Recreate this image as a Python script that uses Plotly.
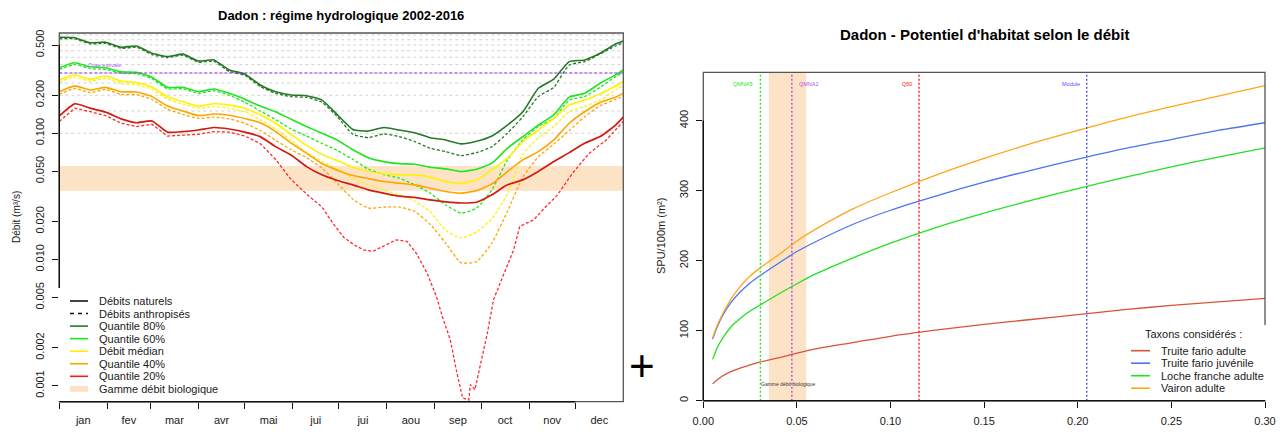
import plotly.graph_objects as go

W, H = 1282, 432
FONT = "Liberation Sans, Arial, sans-serif"

# ---------- données : régime hydrologique (gauche) ----------
jours = [0, 10, 20, 30, 40, 50, 60, 70, 80, 90, 100, 110, 120, 130, 140, 150, 160, 170, 180,
         190, 200, 210, 220, 230, 240, 250, 260, 270, 280, 290, 300, 310, 320, 330, 340, 350, 360, 365]

q80_nat = [0.575, 0.571, 0.521, 0.526, 0.480, 0.491, 0.430, 0.405, 0.423, 0.373, 0.381, 0.317, 0.295,
           0.241, 0.213, 0.201, 0.198, 0.183, 0.140, 0.107, 0.104, 0.111, 0.106, 0.101, 0.092, 0.0885,
           0.0823, 0.0865, 0.0952, 0.116, 0.148, 0.227, 0.268, 0.369, 0.381, 0.430, 0.509, 0.538]
q80_anthro = [0.560, 0.560, 0.510, 0.515, 0.470, 0.480, 0.420, 0.397, 0.415, 0.365, 0.372, 0.308, 0.287,
              0.235, 0.207, 0.195, 0.192, 0.176, 0.135, 0.098, 0.0923, 0.0987, 0.094, 0.0859, 0.0761, 0.0715,
              0.0665, 0.0702, 0.0783, 0.100, 0.135, 0.195, 0.231, 0.347, 0.369, 0.425, 0.491, 0.521]
q60_nat = [0.330, 0.362, 0.336, 0.330, 0.307, 0.304, 0.278, 0.231, 0.231, 0.213, 0.224, 0.207, 0.186,
           0.164, 0.148, 0.129, 0.113, 0.100, 0.088, 0.074, 0.064, 0.0596, 0.0574, 0.0568, 0.0538, 0.0522,
           0.0497, 0.0519, 0.0579, 0.0761, 0.094, 0.116, 0.140, 0.193, 0.207, 0.249, 0.290, 0.317]
q60_anthro = [0.320, 0.350, 0.325, 0.320, 0.298, 0.296, 0.270, 0.225, 0.225, 0.207, 0.217, 0.200, 0.176,
              0.150, 0.128, 0.108, 0.095, 0.083, 0.073, 0.062, 0.052, 0.047, 0.044, 0.039, 0.0335, 0.0271,
              0.0233, 0.0255, 0.0356, 0.0615, 0.0885, 0.113, 0.131, 0.183, 0.195, 0.231, 0.281, 0.302]
q50_nat = [0.264, 0.289, 0.268, 0.284, 0.259, 0.252, 0.231, 0.195, 0.178, 0.164, 0.171, 0.167, 0.158,
           0.140, 0.120, 0.098, 0.080, 0.068, 0.0604, 0.0538, 0.0497, 0.0476, 0.0468, 0.0468, 0.0449, 0.0414,
           0.0402, 0.0427, 0.0512, 0.0634, 0.0859, 0.106, 0.131, 0.167, 0.183, 0.205, 0.237, 0.256]
q50_anthro = [0.255, 0.278, 0.258, 0.272, 0.248, 0.243, 0.222, 0.187, 0.170, 0.158, 0.163, 0.158, 0.148,
              0.128, 0.108, 0.088, 0.070, 0.060, 0.052, 0.044, 0.039, 0.0355, 0.0325, 0.029, 0.024, 0.017,
              0.0148, 0.0165, 0.021, 0.033, 0.068, 0.092, 0.113, 0.148, 0.163, 0.183, 0.220, 0.238]
q40_nat = [0.213, 0.237, 0.220, 0.231, 0.213, 0.212, 0.195, 0.164, 0.150, 0.138, 0.142, 0.139, 0.131,
           0.121, 0.103, 0.0834, 0.0695, 0.0575, 0.0509, 0.0462, 0.0437, 0.0414, 0.0402, 0.039, 0.0367,
           0.0345, 0.0335, 0.0351, 0.0397, 0.0497, 0.0615, 0.0715, 0.0885, 0.120, 0.148, 0.175, 0.193, 0.207]
q40_anthro = [0.203, 0.226, 0.210, 0.222, 0.203, 0.202, 0.185, 0.155, 0.141, 0.131, 0.134, 0.130, 0.120,
              0.105, 0.088, 0.074, 0.064, 0.053, 0.040, 0.030, 0.0255, 0.026, 0.026, 0.024, 0.019, 0.0135,
              0.0094, 0.0096, 0.0135, 0.024, 0.045, 0.065, 0.082, 0.105, 0.135, 0.165, 0.185, 0.197]
q20_nat = [0.137, 0.171, 0.158, 0.147, 0.130, 0.121, 0.125, 0.102, 0.103, 0.106, 0.111, 0.108, 0.102,
           0.094, 0.0783, 0.0673, 0.0544, 0.0468, 0.0422, 0.039, 0.0356, 0.0335, 0.0317, 0.031, 0.0296,
           0.0286, 0.028, 0.0284, 0.0325, 0.039, 0.0427, 0.0497, 0.0596, 0.0702, 0.0834, 0.094, 0.116, 0.134]
# le quantile 20 % anthropisé a son propre pas de temps (creux de septembre)
jours_q20_anthro = [0, 10, 20, 30, 40, 50, 60, 70, 80, 90, 100, 110, 120, 130, 140, 150, 160, 170,
                    177, 184, 191, 197, 203, 210, 218, 225, 231, 238, 244, 248, 253, 257, 261, 265, 266,
                    269, 273, 277, 281, 287, 294, 298, 307, 315, 322, 332, 343, 354, 365]
q20_anthro = [0.124, 0.158, 0.148, 0.138, 0.120, 0.113, 0.118, 0.095, 0.0965, 0.098, 0.103, 0.102, 0.095,
              0.083, 0.062, 0.043, 0.033, 0.026, 0.0194, 0.015, 0.013, 0.0119, 0.0116, 0.0127, 0.0143,
              0.0139, 0.0112, 0.0078, 0.0051, 0.0035, 0.00232, 0.00132, 0.0008, 0.00077, 0.00102, 0.00093,
              0.00158, 0.0026, 0.0048, 0.0073, 0.0119, 0.0183, 0.0206, 0.0263, 0.032, 0.048, 0.0695,
              0.0885, 0.124]

mois = ["jan", "fev", "mar", "avr", "mai", "jui", "jui", "aou", "sep", "oct", "nov", "dec"]
mois_debut = [0, 31, 59, 90, 120, 151, 181, 212, 243, 273, 304, 334]
debit_ticks = [0.001, 0.002, 0.005, 0.01, 0.02, 0.05, 0.1, 0.2, 0.5]
debit_labels = ["0.001", "0.002", "0.005", "0.010", "0.020", "0.050", "0.100", "0.200", "0.500"]
lignes_guides = [0.1, 0.15, 0.2, 0.25, 0.3, 0.35, 0.4, 0.45, 0.5, 0.55, 0.6]
seuil_crise = 0.3
gamme_bio = [0.035, 0.055]

# ---------- données : potentiel d'habitat (droite) ----------
debit_hab = [0.005, 0.0075, 0.01, 0.015, 0.02, 0.025, 0.03, 0.04, 0.05, 0.06, 0.08, 0.10,
             0.125, 0.15, 0.175, 0.20, 0.225, 0.25, 0.275, 0.30]
spu_truite_adulte = [24, 30, 35, 42, 47, 51, 55, 61, 68, 74, 83, 92, 101, 109, 116, 123, 130, 136, 141, 146]
spu_truite_juv = [88, 106, 120, 141, 156, 168, 178, 196, 213, 227, 252, 272, 293, 312, 329, 345, 360, 373, 386, 397]
spu_loche = [59, 76, 88, 106, 118, 128, 136, 152, 167, 181, 204, 225, 248, 268, 286, 303, 319, 334, 348, 361]
spu_vairon = [90, 108, 122, 146, 164, 178, 189, 208, 228, 245, 274, 297, 323, 346, 367, 386, 404, 420, 435, 450]

debits_ref_noms = ["QMNA5", "QMNA2", "Q50", "Module"]
debits_ref = [0.0305, 0.0473, 0.1152, 0.2048]
hab_ticks = [0, 100, 200, 300, 400]
debit_hab_ticks = [0, 0.05, 0.10, 0.15, 0.20, 0.25, 0.30]


def px(x):
    return x / W


def py(y):
    return 1 - y / H


C80, C60, C50, C40, C20 = "#237a23", "#1fe61f", "#fff200", "#ffa500", "#d41a10"
BAND = "#fce3c6"
TXT = "#1a1a1a"

fig = go.Figure()

series = [
    (q80_nat, q80_anthro, C80),
    (q60_nat, q60_anthro, C60),
    (q50_nat, q50_anthro, C50),
    (q40_nat, q40_anthro, C40),
]
for nat, anthro, col in series:
    fig.add_trace(go.Scatter(x=jours, y=anthro, mode="lines", showlegend=False,
                             line=dict(color=col, width=1.3, dash="3px,2px", shape="spline", smoothing=0.5)))
    fig.add_trace(go.Scatter(x=jours, y=nat, mode="lines", showlegend=False,
                             line=dict(color=col, width=1.6, shape="spline", smoothing=0.5)))
fig.add_trace(go.Scatter(x=jours_q20_anthro, y=q20_anthro, mode="lines", showlegend=False,
                         line=dict(color="#ff2a2a", width=1.3, dash="3px,2px")))
fig.add_trace(go.Scatter(x=jours, y=q20_nat, mode="lines", showlegend=False,
                         line=dict(color=C20, width=1.7, shape="spline", smoothing=0.5)))

hab = [
    (spu_truite_adulte, "#d9533a", "Truite fario adulte"),
    (spu_truite_juv, "#4d74ee", "Truite fario juvénile"),
    (spu_loche, "#22e022", "Loche franche adulte"),
    (spu_vairon, "#ffa51a", "Vairon adulte"),
]
for vals, col, nom in hab:
    fig.add_trace(go.Scatter(x=debit_hab, y=vals, mode="lines", showlegend=False, xaxis="x2", yaxis="y2",
                             line=dict(color=col, width=1.3, shape="spline", smoothing=0.8)))

shapes = []
# bande débit biologique + lignes guides (gauche)
shapes.append(dict(type="rect", xref="x domain", yref="y", x0=0, x1=1, y0=gamme_bio[0], y1=gamme_bio[1],
                   fillcolor=BAND, line=dict(width=0), layer="below"))
for v in lignes_guides:
    shapes.append(dict(type="line", xref="x domain", yref="y", x0=0, x1=1, y0=v, y1=v,
                       line=dict(color="#d2d2d2", width=1, dash="3px,3px"), layer="below"))
shapes.append(dict(type="line", xref="x domain", yref="y", x0=0, x1=1, y0=seuil_crise, y1=seuil_crise,
                   line=dict(color="#9a30e8", width=1.2, dash="3px,2px")))
# bande + débits de référence (droite)
shapes.append(dict(type="rect", xref="x2", yref="y2 domain", x0=gamme_bio[0], x1=gamme_bio[1], y0=0, y1=1,
                   fillcolor=BAND, line=dict(width=0), layer="below"))
ref_cols = ["#1fe61f", "#b450e0", "#ff1a1a", "#5555ff"]
for v, col in zip(debits_ref, ref_cols):
    shapes.append(dict(type="line", xref="x2", yref="y2 domain", x0=v, x1=v, y0=0, y1=1,
                       line=dict(color=col, width=1.4, dash="2px,2px")))

# cadres et axes façon R
for xa, ya in (("x", "y"), ("x2", "y2")):
    shapes.append(dict(type="rect", xref=xa + " domain", yref=ya + " domain", x0=0, x1=1, y0=0, y1=1,
                       line=dict(color="#555", width=1.3)))
shapes.append(dict(type="line", xref="x domain", yref="y", x0=0, x1=0, y0=debit_ticks[0], y1=debit_ticks[-1],
                   line=dict(color="#111", width=1.4)))
shapes.append(dict(type="line", xref="x", yref="y domain", x0=mois_debut[0], x1=mois_debut[-1], y0=0, y1=0,
                   line=dict(color="#111", width=1.4)))
shapes.append(dict(type="line", xref="x2 domain", yref="y2", x0=0, x1=0, y0=hab_ticks[0], y1=hab_ticks[-1],
                   line=dict(color="#111", width=1.4)))
shapes.append(dict(type="line", xref="x2", yref="y2 domain", x0=debit_hab_ticks[0], x1=debit_hab_ticks[-1],
                   y0=0, y1=0, line=dict(color="#111", width=1.4)))

annotations = []

# légende gauche (dessinée à la main, comme legend() de R)
shapes.append(dict(type="rect", xref="paper", yref="paper", x0=px(58), x1=px(221), y0=py(401), y1=py(288),
                   fillcolor="white", line=dict(width=0)))
leg1 = [("Débits naturels", "#111", "solid", "line"),
        ("Débits anthropisés", "#111", "4px,4px", "line"),
        ("Quantile 80%", C80, "solid", "line"),
        ("Quantile 60%", C60, "solid", "line"),
        ("Débit médian", C50, "solid", "line"),
        ("Quantile 40%", C40, "solid", "line"),
        ("Quantile 20%", "#ff1a1a", "solid", "line"),
        ("Gamme débit biologique", BAND, "solid", "rect")]
for i, (lab, col, dash, kind) in enumerate(leg1):
    yc = 301 + i * 12.55
    if kind == "line":
        shapes.append(dict(type="line", xref="paper", yref="paper", x0=px(70), x1=px(88), y0=py(yc), y1=py(yc),
                           line=dict(color=col, width=1.6, dash=dash)))
    else:
        shapes.append(dict(type="rect", xref="paper", yref="paper", x0=px(70), x1=px(88), y0=py(yc + 3),
                           y1=py(yc - 3), fillcolor=col, line=dict(width=0)))
    annotations.append(dict(text=lab, xref="paper", yref="paper", x=px(97), y=py(yc), xanchor="left",
                            yanchor="middle", showarrow=False, font=dict(family=FONT, size=11, color=TXT)))

# légende droite
shapes.append(dict(type="rect", xref="paper", yref="paper", x0=px(1122), x1=px(1268), y0=py(400), y1=py(325),
                   fillcolor="white", line=dict(width=0)))
annotations.append(dict(text="Taxons considérés :", xref="paper", yref="paper", x=px(1193), y=py(334),
                        xanchor="center", yanchor="middle", showarrow=False,
                        font=dict(family=FONT, size=11, color=TXT)))
for i, (vals, col, nom) in enumerate(hab):
    yc = 350.7 + i * 12.5
    shapes.append(dict(type="line", xref="paper", yref="paper", x0=px(1131), x1=px(1150), y0=py(yc), y1=py(yc),
                       line=dict(color=col, width=1.6)))
    annotations.append(dict(text=nom, xref="paper", yref="paper", x=px(1159), y=py(yc), xanchor="left",
                            yanchor="middle", showarrow=False, font=dict(family=FONT, size=11, color=TXT)))

# titres, libellés d'axes
annotations += [
    dict(text="<b>Dadon : régime hydrologique 2002-2016</b>", xref="paper", yref="paper", x=px(341), y=py(16),
         xanchor="center", yanchor="middle", showarrow=False, font=dict(family=FONT, size=13, color="#000")),
    dict(text="<b>Dadon - Potentiel d'habitat selon le débit</b>", xref="paper", yref="paper", x=px(984),
         y=py(35), xanchor="center", yanchor="middle", showarrow=False, font=dict(family=FONT, size=15, color="#000")),
    dict(text="Débit (m³/s)", xref="paper", yref="paper", x=px(17), y=py(217), textangle=-90, xanchor="center",
         yanchor="middle", showarrow=False, font=dict(family=FONT, size=10, color=TXT)),
    dict(text="SPU/100m (m²)", xref="paper", yref="paper", x=px(661), y=py(236), textangle=-90, xanchor="center",
         yanchor="middle", showarrow=False, font=dict(family=FONT, size=11, color=TXT)),
    dict(text="Crise estivale", xref="paper", yref="paper", x=px(86), y=py(65), xanchor="left", yanchor="middle",
         showarrow=False, font=dict(family=FONT, size=5.5, color="#b060f0")),
    dict(text="Gamme débit biologique", xref="x2", yref="paper", x=sum(gamme_bio) / 2, y=py(384),
         xanchor="center", yanchor="middle", showarrow=False, font=dict(family=FONT, size=5, color="#333")),
    dict(text="+", xref="paper", yref="paper", x=px(642), y=py(365), xanchor="center", yanchor="middle",
         showarrow=False, font=dict(family=FONT, size=44, color="#000")),
]
ref_pos = [("right", -5), ("left", 5), ("right", -5), ("right", -5)]
for nom, v, col, (anc, sh) in zip(debits_ref_noms, debits_ref, ref_cols, ref_pos):
    annotations.append(dict(text=nom, xref="x2", yref="paper", x=v, y=py(84), xanchor=anc, xshift=sh,
                            yanchor="middle", showarrow=False, font=dict(family=FONT, size=5.5, color=col)))

mois_milieu = [(a + b) / 2 for a, b in zip(mois_debut, mois_debut[1:] + [365])]
tickfont = dict(family=FONT, size=11, color=TXT)

fig.update_layout(
    template="none",
    width=W, height=H, margin=dict(l=0, r=0, t=0, b=0, pad=0),
    paper_bgcolor="white", plot_bgcolor="white", showlegend=False,
    xaxis=dict(domain=[px(59.3), px(623.3)], range=[0, 365], showgrid=False, zeroline=False, showline=False,
               automargin=False,
               tickmode="array", tickvals=mois_milieu, ticktext=mois, ticks="", tickfont=tickfont,
               ticklabelstandoff=10,
               minor=dict(tickmode="array", tickvals=mois_debut, ticks="outside", ticklen=6, tickwidth=1,
                          tickcolor="#111", showgrid=False)),
    yaxis=dict(domain=[py(401.7), py(33)], type="log", range=[-3.127, -0.206], showgrid=False, zeroline=False,
               showline=False, automargin=False, tickmode="array", tickvals=debit_ticks, ticktext=debit_labels,
               tickangle=-90, ticks="outside", ticklen=6, tickcolor="#111", tickfont=tickfont,
               ticklabelstandoff=4),
    xaxis2=dict(domain=[px(703.3), px(1265)], range=[0, 0.3], anchor="y2", showgrid=False, zeroline=False,
                showline=False, automargin=False, tickmode="array", tickvals=debit_hab_ticks,
                ticktext=["%.2f" % v for v in debit_hab_ticks], ticks="outside", ticklen=6, tickcolor="#111",
                tickfont=tickfont, ticklabelstandoff=4),
    yaxis2=dict(domain=[py(400.7), py(72.3)], range=[0, 469], anchor="x2", showgrid=False, zeroline=False,
                showline=False, automargin=False, tickmode="array", tickvals=hab_ticks, tickangle=-90,
                ticks="outside", ticklen=6, tickcolor="#111", tickfont=tickfont, ticklabelstandoff=4),
    shapes=shapes,
    annotations=annotations,
)

# la page a une marge de 8px par défaut : on la retire
fig.write_html("out.html", config={"displayModeBar": False},
               post_script="document.body.style.margin='0';document.body.style.overflow='hidden';")
